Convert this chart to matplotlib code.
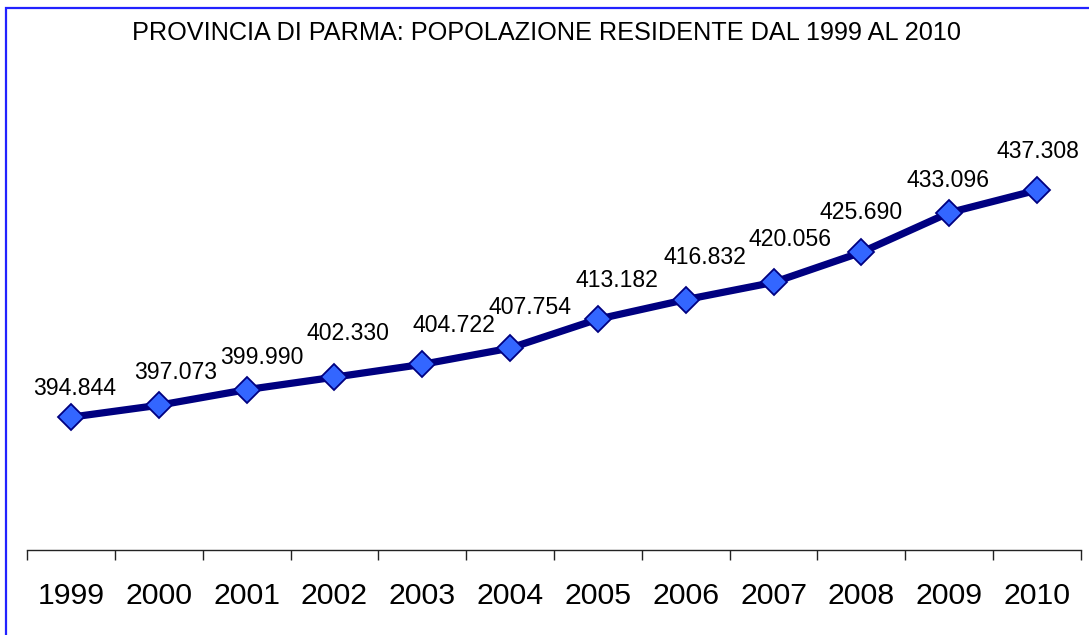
import matplotlib
import numpy as np

matplotlib.use("Agg")

import matplotlib.pyplot as plt
from matplotlib.patches import Rectangle

years = ["1999", "2000", "2001", "2002", "2003", "2004",
         "2005", "2006", "2007", "2008", "2009", "2010"]
population = [394.844, 397.073, 399.990, 402.330, 404.722, 407.754,
              413.182, 416.832, 420.056, 425.690, 433.096, 437.308]
value_labels = ["394.844", "397.073", "399.990", "402.330", "404.722", "407.754",
                "413.182", "416.832", "420.056", "425.690", "433.096", "437.308"]
title = "PROVINCIA DI PARMA: POPOLAZIONE RESIDENTE DAL 1999 AL 2010"

# label offsets in pixels (dx, dy) relative to each marker, as Excel placed them
label_offsets = [(4, 29), (17, 33), (15, 32), (14, 44), (32, 39), (20, 41),
                 (19, 39), (19, 42), (16, 43), (0, 40), (-1, 32), (1, 39)]

plt.rcParams["font.family"] = ["Liberation Sans", "DejaVu Sans"]

W, H = 1089, 635
fig = plt.figure(figsize=(W / 100, H / 100), dpi=100)
ax = fig.add_axes([27 / W, 1 - 550 / H, (1081 - 27) / W, (550 - 122.3) / H])

x = np.arange(len(years))
ax.plot(x, population, color="#000080", linewidth=5.2, marker="D", markersize=13.5,
        markerfacecolor="#3366FF", markeredgecolor="#000080", markeredgewidth=1.3,
        solid_joinstyle="round", zorder=3)

for xi, yi, text, (dx, dy) in zip(x, population, value_labels, label_offsets):
    ax.annotate(text, (xi, yi), xytext=(dx, dy), textcoords="offset pixels",
                ha="center", va="center", fontsize=16.6, color="black")

ax.set_xlim(-0.5, len(years) - 0.5)
ax.set_ylim(370, 450)

for side in ("left", "right", "top"):
    ax.spines[side].set_visible(False)
ax.spines["bottom"].set_color("#222222")
ax.spines["bottom"].set_linewidth(1.0)
ax.set_yticks([])

ax.set_xticks(x)
ax.set_xticklabels(years, fontsize=21.8)
ax.set_xticks(np.arange(-0.5, len(years)), minor=True)
ax.tick_params(axis="x", which="major", length=0, pad=23)
ax.tick_params(axis="x", which="minor", length=7, width=1.0, color="#222222")

fig.text(546 / W, 1 - 33 / H, title, ha="center", va="center", fontsize=18.2)

# blue frame around the chart area (right/bottom edges fall outside the image)
fig.add_artist(Rectangle((6 / W, -0.5), 2.0, 1.5 - 8 / H, transform=fig.transFigure,
                         fill=False, edgecolor="#2222FF", linewidth=1.6))

fig.savefig("out.png", dpi=100)
